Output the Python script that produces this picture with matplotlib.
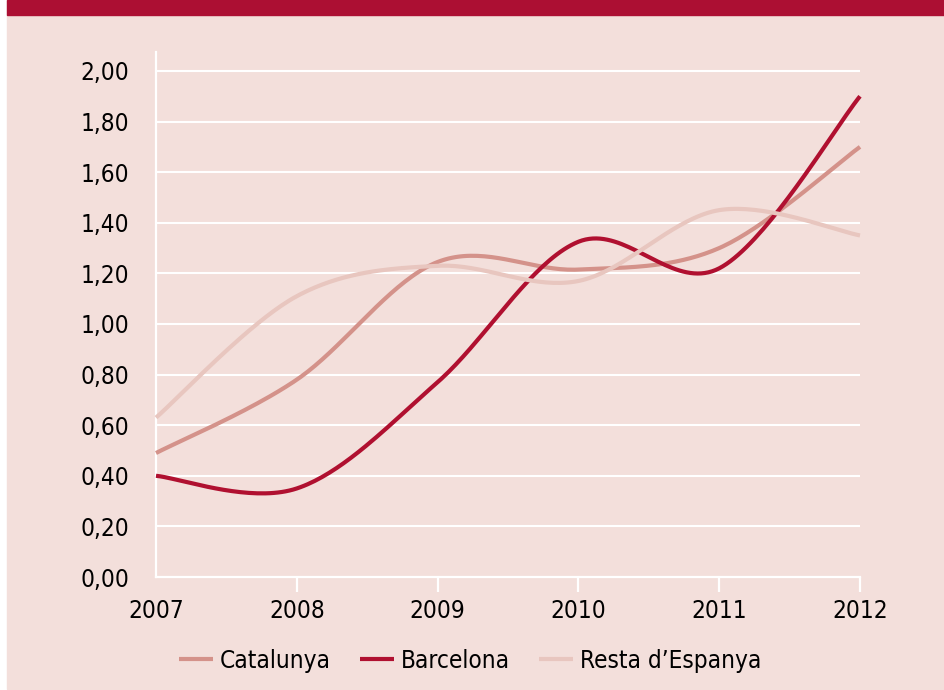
import numpy as np
import matplotlib
matplotlib.use('Agg')
import matplotlib.pyplot as plt
from matplotlib.patches import Rectangle
from matplotlib import font_manager

years = [2007, 2008, 2009, 2010, 2011, 2012]
catalunya = [0.49, 0.78, 1.245, 1.215, 1.30, 1.70]
barcelona = [0.40, 0.35, 0.77, 1.325, 1.22, 1.90]
resta = [0.63, 1.11, 1.23, 1.17, 1.45, 1.35]
y_ticks = [0.0, 0.2, 0.4, 0.6, 0.8, 1.0, 1.2, 1.4, 1.6, 1.8, 2.0]
y_labels = ['0,00', '0,20', '0,40', '0,60', '0,80', '1,00', '1,20', '1,40', '1,60', '1,80', '2,00']
series_names = ['Catalunya', 'Barcelona', 'Resta d\u2019Espanya']

BG = '#f3dfdb'
RED = '#ac0f33'
colors = ['#d4928a', '#b01030', '#e8c6bf']

# the original uses a narrow grotesque, DejaVu Sans Condensed is the closest we have
has_cond = any(f.name == 'DejaVu Sans' and f.stretch == 'condensed' for f in font_manager.fontManager.ttflist)
plt.rcParams['font.family'] = ['DejaVu Sans']
if has_cond:
    plt.rcParams['font.stretch'] = 'condensed'
    fs = 17.5
else:
    plt.rcParams['font.family'] = ['Liberation Sans', 'DejaVu Sans']
    fs = 16.5


def smooth(xs, ys, n=40):
    # smoothed line like a spreadsheet chart: cubic bezier, catmull-rom tangents
    p = np.column_stack([xs, ys]).astype(float)
    out = []
    for i in range(len(p) - 1):
        p0 = p[i - 1] if i > 0 else p[i]
        p3 = p[i + 2] if i + 2 < len(p) else p[i + 1]
        c1 = p[i] + (p[i + 1] - p0) / 6
        c2 = p[i + 1] - (p3 - p[i]) / 6
        t = np.linspace(0, 1, n)[:, None]
        seg = ((1 - t) ** 3) * p[i] + 3 * ((1 - t) ** 2) * t * c1 + 3 * (1 - t) * t ** 2 * c2 + t ** 3 * p[i + 1]
        out.append(seg if i == 0 else seg[1:])
    out = np.vstack(out)
    return out[:, 0], out[:, 1]


fig = plt.figure(figsize=(9.44, 6.90), dpi=100)
fig.patch.set_facecolor('white')
fig.patches.append(Rectangle((7 / 944, 1 / 690), 1, 1, transform=fig.transFigure, color=BG, zorder=-10))
fig.patches.append(Rectangle((7 / 944, 1 - 15 / 690), 1, 15 / 690, transform=fig.transFigure, color=RED, zorder=-5))

ax = fig.add_axes([156 / 944, 1 - 577 / 690, (860 - 156) / 944, (577 - 52) / 690])
ax.set_facecolor('none')
ax.set_xlim(2007, 2012)
ax.set_ylim(0, 2.075)

for v in y_ticks[1:]:
    ax.axhline(v, color='white', lw=1.5, zorder=1)

for ys, c, name in zip([catalunya, barcelona, resta], colors, series_names):
    sx, sy = smooth(years, ys)
    ax.plot(sx, sy, color=c, lw=3.0, label=name, zorder=3, clip_on=False, solid_capstyle='butt')

for s in ['top', 'right']:
    ax.spines[s].set_visible(False)
for s in ['left', 'bottom']:
    ax.spines[s].set_color('white')
    ax.spines[s].set_linewidth(1.6)

ax.set_yticks(y_ticks)
ax.set_yticklabels(y_labels)
ax.tick_params(axis='y', length=0, pad=19, labelsize=fs)
ax.set_xticks(years)
ax.set_xticklabels([str(y) for y in years])
ax.tick_params(axis='x', length=11, width=1.6, color='white', pad=5, labelsize=fs)
ax.xaxis.get_major_ticks()[0].tick1line.set_visible(False)

leg = ax.legend(loc='center left', bbox_to_anchor=((179 - 156) / 704, -0.16), ncol=3, frameon=False,
                fontsize=fs, handlelength=24.5 / fs, handletextpad=5 / fs, columnspacing=21 / fs,
                borderpad=0, borderaxespad=0)
for h in leg.get_lines():
    h.set_linewidth(3.0)

fig.savefig('out.png', dpi=100, facecolor=fig.get_facecolor())
